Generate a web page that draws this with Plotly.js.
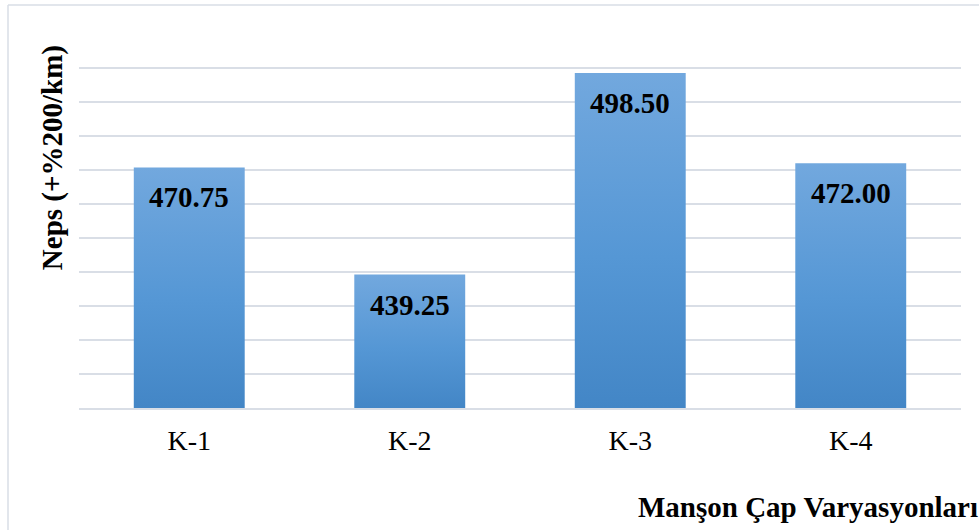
<!DOCTYPE html>
<html>
<head>
<meta charset="utf-8">
<script src="https://cdn.plot.ly/plotly-3.0.1.min.js"></script>
<style>
  html, body { margin: 0; padding: 0; background: #ffffff; }
  #chart { width: 979px; height: 530px; }
</style>
</head>
<body>
<svg id="gradDefs" width="0" height="0" style="position:absolute"><defs></defs></svg>
<div id="chart"></div>
<script>
// ---- data ----
const categories = ["K-1", "K-2", "K-3", "K-4"];
const neps = [470.75, 439.25, 498.50, 472.00];
const labels = ["470.75", "439.25", "498.50", "472.00"];
const yTitle = "Neps (+%200/km)";
const xTitle = "Manşon Çap Varyasyonları";

const serif = '"Liberation Serif", "Times New Roman", Times, serif';

const trace = {
  type: "bar",
  x: categories,
  y: neps,
  marker: { color: "#5B9BD5", line: { width: 0 } },
  hoverinfo: "x+y"
};

const annotations = categories.map((c, i) => ({
  x: c, y: neps[i], xref: "x", yref: "y",
  text: "<b>" + labels[i] + "</b>",
  showarrow: false, yanchor: "middle", yshift: -30,
  font: { family: serif, size: 29, color: "#000000" }
}));

annotations.push({
  xref: "paper", yref: "paper", x: -0.0306, y: 0.668,
  text: "<b>" + yTitle + "</b>", textangle: -90,
  showarrow: false, xanchor: "center", yanchor: "middle",
  font: { family: serif, size: 29, color: "#000000" }
});
annotations.push({
  xref: "paper", yref: "paper", x: 0.6315, y: -0.2647,
  text: "<b>" + xTitle + "</b>",
  showarrow: false, xanchor: "left", yanchor: "middle",
  font: { family: serif, size: 29, color: "#000000" }
});

const layout = {
  width: 979, height: 530,
  margin: { l: 79, r: 18, t: 34, b: 122 },
  paper_bgcolor: "#ffffff", plot_bgcolor: "#ffffff",
  bargap: 0.497,
  showlegend: false,
  xaxis: {
    type: "category",
    showgrid: false, zeroline: false,
    showline: true, linecolor: "#D9DEE6", linewidth: 1.5,
    ticks: "", ticklabelstandoff: 7,
    tickfont: { family: serif, size: 28, color: "#000000" }
  },
  yaxis: {
    range: [400, 510], dtick: 10, tick0: 400,
    showgrid: true, gridcolor: "#D9DEE6", gridwidth: 1.5,
    zeroline: false, showline: false,
    showticklabels: false, ticks: ""
  },
  shapes: [
    { type: "line", xref: "paper", yref: "paper", x0: -0.0805, x1: -0.0805, y0: 1.0775, y1: -0.4,
      line: { color: "#D9DEE6", width: 1.5 } },
    { type: "line", xref: "paper", yref: "paper", x0: -0.0805, x1: 1.1, y0: 1.0775, y1: 1.0775,
      line: { color: "#D9DEE6", width: 1.5 } }
  ],
  annotations: annotations
};

// per-bar vertical gradient from each bar's visible top to the axis baseline
function applyGradient(gd) {
  const NS = "http://www.w3.org/2000/svg";
  const defs = document.querySelector("#gradDefs defs");
  while (defs.firstChild) defs.removeChild(defs.firstChild);
  const ya = gd._fullLayout.yaxis;
  const yBottom = ya._length;
  const stops = [["0", "#72A8DE"], ["0.55", "#5597D5"], ["1", "#4386C6"]];
  gd.querySelectorAll(".bars .point path").forEach(function (p, i) {
    const yTop = ya.c2p(neps[i]);
    const g = document.createElementNS(NS, "linearGradient");
    g.setAttribute("id", "barGrad" + i);
    g.setAttribute("gradientUnits", "userSpaceOnUse");
    g.setAttribute("x1", "0"); g.setAttribute("x2", "0");
    g.setAttribute("y1", String(yTop)); g.setAttribute("y2", String(yBottom));
    stops.forEach(function (s) {
      const st = document.createElementNS(NS, "stop");
      st.setAttribute("offset", s[0]); st.setAttribute("stop-color", s[1]);
      g.appendChild(st);
    });
    defs.appendChild(g);
    p.style.setProperty("fill", "url(#barGrad" + i + ")", "important");
  });
}

Plotly.newPlot("chart", [trace], layout, { displayModeBar: false, staticPlot: true }).then(function (gd) {
  applyGradient(gd);
});
</script>
</body>
</html>
